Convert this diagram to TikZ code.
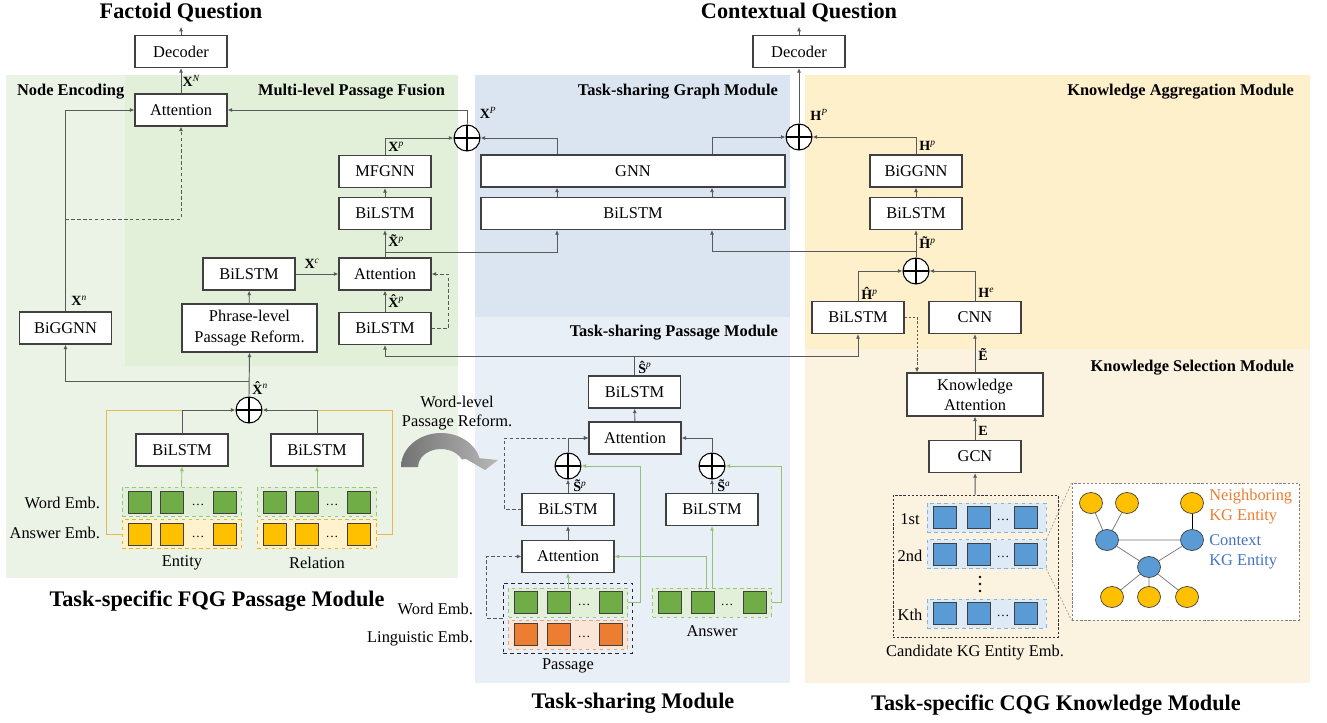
\documentclass[tikz,border=0pt]{standalone}
\usepackage{fontspec}
\setmainfont{Liberation Serif}
\usetikzlibrary{arrows.meta,shapes.geometric}

% panel colours
\definecolor{fqgout}{RGB}{235,242,230}
\definecolor{fqgin}{RGB}{226,239,217}
\definecolor{graphbg}{RGB}{218,229,241}
\definecolor{passbg}{RGB}{233,239,247}
\definecolor{aggbg}{RGB}{255,240,204}
\definecolor{selbg}{RGB}{251,243,224}
% embedding colours
\definecolor{sqgreen}{RGB}{112,173,71}
\definecolor{sqyellow}{RGB}{255,192,0}
\definecolor{sqorange}{RGB}{237,125,49}
\definecolor{sqblue}{RGB}{91,155,213}
\definecolor{grpgreen}{RGB}{226,240,217}
\definecolor{grpyellow}{RGB}{255,242,204}
\definecolor{grporange}{RGB}{251,229,214}
\definecolor{grpblue}{RGB}{222,235,247}
\definecolor{edgegreen}{RGB}{150,200,120}
\definecolor{edgeyellow}{RGB}{235,180,40}
\definecolor{edgeorange}{RGB}{244,160,110}
\definecolor{edgeblue}{RGB}{130,180,225}
\definecolor{linegray}{RGB}{89,89,89}
\definecolor{ansgold}{RGB}{229,186,77}
\definecolor{txtorange}{RGB}{237,125,49}
\definecolor{txtblue}{RGB}{68,114,196}

\newcommand{\feat}[2]{\textbf{#1}\textsuperscript{\textit{#2}}}
% accented bold letter kept at the width of the bare letter
\newcommand{\accb}[2]{\setbox0\hbox{\textbf{#2}}\makebox[\wd0][l]{\textbf{#1{#2}}}}

\begin{document}
\begin{tikzpicture}[x=0.03cm,y=-0.03cm,
  font=\fontsize{14}{17}\selectfont,
  box/.style={draw=black!75,line width=0.9pt,fill=white,minimum width=2.76cm,minimum height=0.96cm,inner sep=0pt,align=center},
  sumnode/.style={circle,draw=black,line width=0.9pt,fill=white,minimum size=0.78cm,inner sep=0pt,
    path picture={\draw[line width=0.9pt] (path picture bounding box.north) -- (path picture bounding box.south)
      (path picture bounding box.west) -- (path picture bounding box.east);}},
  wire/.style={draw=linegray,line width=0.8pt},
  arr/.style={wire,-{Latex[length=4pt,width=3.5pt]}},
  darr/.style={arr,dash pattern=on 3pt off 2pt},
  garr/.style={draw=sqgreen!75,line width=0.7pt,-{Latex[length=4pt,width=3.5pt]}},
  lab/.style={font=\fontsize{12}{14}\selectfont,inner sep=1pt},
  title/.style={font=\fontsize{19}{22}\selectfont\bfseries},
  sect/.style={font=\fontsize{14}{17}\selectfont\bfseries},
  sq/.style={draw=black!75,line width=0.6pt,minimum width=0.69cm,minimum height=0.66cm,inner sep=0pt},
  grp/.style={dashed,line width=0.7pt,minimum width=3.57cm,minimum height=0.87cm,inner sep=0pt},
  dots/.style={font=\fontsize{11}{12}\selectfont,inner sep=0pt},
  ent/.style={ellipse,draw=black!75,line width=0.6pt,minimum width=0.69cm,minimum height=0.63cm,inner sep=0pt},
]
\useasboundingbox (0,0) rectangle (1327,722);

% Module backgrounds
\fill[fqgout] (6,75) rectangle (458,578);
\fill[fqgin] (125,75) rectangle (458,366);
\fill[graphbg] (475,75) rectangle (790,317);
\fill[passbg] (475,317) rectangle (790,683);
\fill[aggbg] (805,75) rectangle (1310,349);
\fill[selbg] (805,349) rectangle (1310,683);

% Titles
\node[title] (tfq) at (181,13) {Factoid Question};
\node[title] (tcq) at (799,13) {Contextual Question};
\node[title] (tfqg) at (217,601) {Task-specific FQG Passage Module};
\node[title] (tts) at (633,703) {Task-sharing Module};
\node[title] (tcqg) at (1056,705) {Task-specific CQG Knowledge Module};

% Sub-module names
\node[sect,anchor=west] (snode) at (13,92) {Node Encoding};
\node[sect,anchor=east] (sfuse) at (449,92) {Multi-level Passage Fusion};
\node[sect,anchor=east] (sgraph) at (782,92) {Task-sharing Graph Module};
\node[sect,anchor=east] (spass) at (782,333) {Task-sharing Passage Module};
\node[sect,anchor=east] (sagg) at (1298,92) {Knowledge Aggregation Module};
\node[sect,anchor=east] (ssel) at (1298,368) {Knowledge Selection Module};

% FQG side
\node[box] (dec1) at (181,51.5) {Decoder};
\node[box] (attn1) at (181,110) {Attention};
\node[box] (mfgnn) at (385,171.5) {MFGNN};
\node[box] (lstmB) at (385,213.5) {BiLSTM};
\node[box] (attn2) at (385,274) {Attention};
\node[box] (lstmC) at (385,328.5) {BiLSTM};
\node[box] (lstmX) at (249,274) {BiLSTM};
\node[box,minimum width=4.05cm,minimum height=1.44cm,font=\fontsize{14}{18}\selectfont] (phrase) at (249.5,328) {Phrase-level\\Passage Reform.};
\node[box] (biggnn1) at (65.5,328) {BiGGNN};
\node[sumnode] (sum1) at (249,410) {};
\node[box] (lstmE) at (182,450) {BiLSTM};
\node[box] (lstmR) at (317,450) {BiLSTM};

% Entity and relation embeddings
\node[grp,draw=edgegreen,fill=grpgreen] (wordE) at (181.5,501.5) {};
\node[grp,draw=edgeyellow,fill=grpyellow] (ansE) at (181.5,534) {};
\node[grp,draw=edgegreen,fill=grpgreen] (wordR) at (317,501.5) {};
\node[grp,draw=edgeyellow,fill=grpyellow] (ansR) at (317,534) {};
\foreach \x [count=\i] in {140,172,224.5}
{
  \node[sq,fill=sqgreen] (we\i) at (\x,502.5) {};
  \node[sq,fill=sqyellow] (ae\i) at (\x,534) {};
}
\foreach \x [count=\i] in {275,307,359}
{
  \node[sq,fill=sqgreen] (wr\i) at (\x,502.5) {};
  \node[sq,fill=sqyellow] (ar\i) at (\x,534) {};
}
\node[dots] (wed) at (198,505) {\dots};
\node[dots] (aed) at (198,537) {\dots};
\node[dots] (wrd) at (332,505) {\dots};
\node[dots] (ard) at (332,537) {\dots};
\node[anchor=east] (lwe) at (104,503) {Word Emb.};
\node[anchor=east] (lae) at (104,533) {Answer Emb.};
\node (lent) at (182,563) {Entity};
\node (lrel) at (317,563) {Relation};

% FQG connections
\draw[arr] (dec1.north) -- (tfq.south);
\draw[arr] (attn1) -- (dec1) node[lab,midway,right] (lXN) {\feat{X}{N}};
\draw[wire,draw=ansgold] (ansE.west) -- ++(-15,0) |- (lstmE.north |- sum1.west);
\draw[wire,draw=ansgold] (ansR.east) -- ++(16,0) |- (lstmR.north |- sum1.east);
\draw[arr] (lstmE.north) |- (sum1.west);
\draw[arr] (lstmR.north) |- (sum1.east);
\draw[garr] (wordE.north) -- (lstmE.south);
\draw[garr] (wordR.north) -- (lstmR.south);
\draw[arr] (sum1.north) -- (phrase.south);
\node[lab,anchor=west] (lXhn) at (251,388) {\accb{\^}{X}\textsuperscript{\textit{n}}};
\coordinate (split1) at (249,381);
\draw[arr] (split1) -| (biggnn1.south);
\draw[arr] (biggnn1.north) |- (attn1.west);
\node[lab,anchor=west] (lXn) at (70,301) {\feat{X}{n}};
\coordinate (nsplit) at (65.5,219);
\draw[darr] (nsplit) -| (attn1.south);
\draw[arr] (phrase) -- (lstmX);
\draw[arr] (lstmX) -- (attn2);
\node[lab] (lXc) at (312,264) {\feat{X}{c}};
\draw[arr] (lstmC) -- (attn2);
\node[lab,anchor=west] (lXhp) at (387,301) {\accb{\^}{X}\textsuperscript{\textit{p}}};
\draw[darr] (lstmC.east) -- ++(17,0) |- (attn2.east);
\draw[arr] (attn2) -- (lstmB);
\node[lab,anchor=west] (lXtp) at (387,241) {\accb{\~}{X}\textsuperscript{\textit{p}}};
\draw[arr] (lstmB) -- (mfgnn);
\node[sumnode] (sum2) at (467,138) {};
\draw[arr] (mfgnn.north) |- (sum2.west);
\node[lab,anchor=west] (lXp) at (387,147) {\feat{X}{p}};
\draw[arr] (sum2.north) |- (attn1.east);
\node[lab] (lXP) at (488,113) {\feat{X}{P}};

% Task-sharing graph module
\node[box,minimum width=9.12cm] (gnn) at (633,171) {GNN};
\node[box,minimum width=9.12cm] (biglstm) at (633,213.5) {BiLSTM};
\coordinate (gnnL) at (557,0);
\coordinate (gnnR) at (712,0);
\node[sumnode] (sum3) at (799,137) {};
\node[box] (dec2) at (799,51.5) {Decoder};
\draw[arr] (gnn.north -| gnnL) |- (sum2.east);
\draw[arr] (gnn.north -| gnnR) |- (sum3.west);
\draw[arr] (biglstm.north -| gnnL) -- (gnn.south -| gnnL);
\draw[arr] (biglstm.north -| gnnR) -- (gnn.south -| gnnR);
\draw[arr] (sum3) -- (dec2);
\draw[arr] (dec2.north) -- (tcq.south);
\node[lab] (lHP) at (819,115) {\feat{H}{P}};
\coordinate (xsplit) at (385,252);
\draw[arr] (xsplit) -| (biglstm.south -| gnnL);

% Knowledge aggregation module
\node[box] (biggnn2) at (916,171) {BiGGNN};
\node[box] (lstmH) at (916,213.5) {BiLSTM};
\node[sumnode] (sum4) at (916,271) {};
\node[box] (lstmP) at (858,317.5) {BiLSTM};
\node[box] (cnn) at (975,317.5) {CNN};
\draw[arr] (biggnn2.north) |- (sum3.east);
\node[lab,anchor=west] (lHp) at (918,146) {\feat{H}{p}};
\draw[arr] (lstmH) -- (biggnn2);
\draw[arr] (sum4) -- (lstmH);
\node[lab,anchor=west] (lHtp) at (918,243) {\accb{\~}{H}\textsuperscript{\textit{p}}};
\coordinate (hsplit) at (916,251);
\draw[arr] (hsplit) -| (biglstm.south -| gnnR);
\draw[arr] (lstmP.north) |- (sum4.west);
\node[lab,anchor=west] (lHhp) at (860,293) {\feat{\^{H}}{p}};
\draw[arr] (cnn.north) |- (sum4.east);
\node[lab,anchor=west] (lHe) at (977,293) {\feat{H}{e}};

% Knowledge selection module
\node[box,minimum width=4.08cm,minimum height=1.29cm] (katt) at (975,394.5) {Knowledge\\Attention};
\node[box] (gcn) at (975,456.5) {GCN};
\draw[arr] (katt) -- (cnn);
\node[lab,anchor=west] (lEt) at (977,354) {\textbf{\~{E}}};
\draw[arr] (gcn) -- (katt);
\node[lab,anchor=west] (lE) at (977,431) {\textbf{E}};
\draw[darr,dash pattern=on 2pt off 1.5pt] (lstmP.east) -| ([xshift=-1.74cm]katt.north);
\node[draw=black!80,line width=0.7pt,dash pattern=on 2pt off 1.5pt,minimum width=4.95cm,minimum height=4.26cm] (cand) at (975.5,566) {};
\draw[arr] (cand) -- (gcn);
\foreach \y/\t [count=\i] in {517.5/1st,554/2nd,613.5/Kth}
{
  \node[grp,draw=edgeblue,fill=grpblue] (row\i) at (986.5,\y) {};
  \foreach \x [count=\j] in {945,979,1026}
    \node[sq,fill=sqblue] (b\i\j) at (\x,\y) {};
  \node[dots] (bd\i) at (1003,\y+2.5) {\dots};
  \node (rl\i) at (910,\y+1.5) {\t};
}
% vertical dots between the rows
\foreach \y [count=\i] in {577,584,591}
  \fill[black] (980,\y) circle[radius=1.3] coordinate (vd\i);
\node (lcand) at (975,653) {Candidate KG Entity Emb.};

% KG sub-graph
\node[draw=black!50,line width=0.7pt,dash pattern=on 2pt off 1.5pt,fill=white,minimum width=6.81cm,minimum height=4.11cm] (gbox) at (1185.5,551.5) {};
\draw[black!45,line width=0.5pt,dash pattern=on 1.5pt off 1.5pt] (row2.north east) -- (gbox.north west) (row2.south east) -- (gbox.south west);
\foreach \n/\x/\y in {n1/1091/503,n2/1127/503,n3/1192/503,n4/1112/597,n5/1149/597,n6/1187/597}
  \node[ent,fill=sqyellow] (\n) at (\x,\y) {};
\foreach \n/\x/\y in {c1/1107/540,c2/1192/540,c3/1149/567}
  \node[ent,fill=sqblue] (\n) at (\x,\y) {};
\draw[black!55,line width=0.6pt] (n1) -- (c1) (n2) -- (c1) (c1) -- (c2) (c1) -- (c3) (c2) -- (c3)
  (c3) -- (n4) (c3) -- (n5) (c3) -- (n6);
\draw[black,line width=0.8pt] (n3) -- (c2);
\node[anchor=north west,align=left,inner sep=0pt,text=txtorange] (lneigh) at (1209,489) {Neighboring\\KG Entity};
\node[anchor=north west,align=left,inner sep=0pt,text=txtblue] (lctx) at (1209,534) {Context\\KG Entity};

% Task-sharing passage module
\node[box] (lstmS) at (634.5,392) {BiLSTM};
\node[box] (attn3) at (635,438) {Attention};
\node[sumnode] (sumP) at (568,466) {};
\node[sumnode] (sumA) at (712,466) {};
\node[box] (lstmL) at (568,509.5) {BiLSTM};
\node[box] (lstmA) at (712,509.5) {BiLSTM};
\node[box] (attn4) at (568,556.5) {Attention};
\node[draw=black!85,line width=0.7pt,dashed,minimum width=3.87cm,minimum height=2.1cm] (pbox) at (567.5,618) {};
\node[grp,draw=edgegreen,fill=grpgreen] (wordP) at (568,602.5) {};
\node[grp,draw=edgeorange,fill=grporange] (lingP) at (568,634.5) {};
\node[grp,draw=edgegreen,fill=grpgreen] (ansP) at (712,602.5) {};
\foreach \x [count=\i] in {526,558.5,610.5}
{
  \node[sq,fill=sqgreen] (wp\i) at (\x,602.5) {};
  \node[sq,fill=sqorange] (lp\i) at (\x,634.5) {};
}
\foreach \x [count=\i] in {670,702.5,754.5}
  \node[sq,fill=sqgreen] (ap\i) at (\x,602.5) {};
\node[dots] (wpd) at (584,605) {\dots};
\node[dots] (lpd) at (584,637) {\dots};
\node[dots] (apd) at (727,605) {\dots};
\node[anchor=east] (lwp) at (477,609) {Word Emb.};
\node[anchor=east] (llp) at (477,639) {Linguistic Emb.};
\node (lpas) at (568,666) {Passage};
\node (lans) at (712,631) {Answer};

% passage connections
\draw[arr] (attn3) -- (lstmS);
\draw[wire] (lstmS.north) -- (lstmS.north |- 0,356);
\draw[arr] (lstmS.north |- 0,356) -| (lstmC.south);
\draw[arr] (lstmS.north |- 0,356) -| (lstmP.south);
\node[lab,anchor=west] (lShp) at (637,367) {\feat{\^{S}}{p}};
\draw[arr] (sumP.north) |- (attn3.west);
\draw[arr] (sumA.north) |- (attn3.east);
\draw[arr] (lstmL) -- (sumP);
\node[lab,anchor=west] (lStp) at (572,486) {\accb{\~}{S}\textsuperscript{\textit{p}}};
\draw[arr] (lstmA) -- (sumA);
\node[lab,anchor=west] (lSta) at (716,486) {\accb{\~}{S}\textsuperscript{\textit{a}}};
\draw[arr] (attn4) -- (lstmL);
\draw[darr] (lstmL.west) -- ++(-17,0) |- (attn3.west);
\draw[darr] (pbox.west) -- ++(-16,0) |- (attn4.west);
\draw[garr] (wordP.north) -- (attn4.south);
\draw[garr] (wordP.east) -- ++(12,0) |- (sumP.east);
\draw[garr] ([xshift=-0.18cm]ansP.north) |- (attn4.east);
\draw[garr] (ansP.north) -- (lstmA.south);
\draw[garr] (ansP.east) -- ++(9,0) |- (sumA.east);

% Word-level reform arrow
\node[align=center,font=\fontsize{14}{15.5}\selectfont] (lwlr) at (457,413) {Word-level\\Passage Reform.};
\begin{scope}[shift={(441,467)},y=0.03cm]
\shade[left color=black!55,right color=black!28] (-40,0) arc[start angle=180,end angle=15,x radius=40,y radius=34]
  -- (57,7) -- (44,-3) -- (25,8) -- (20.8,7.6) arc[start angle=25,end angle=180,x radius=23,y radius=18] -- cycle;
\end{scope}

\end{tikzpicture}
\end{document}
